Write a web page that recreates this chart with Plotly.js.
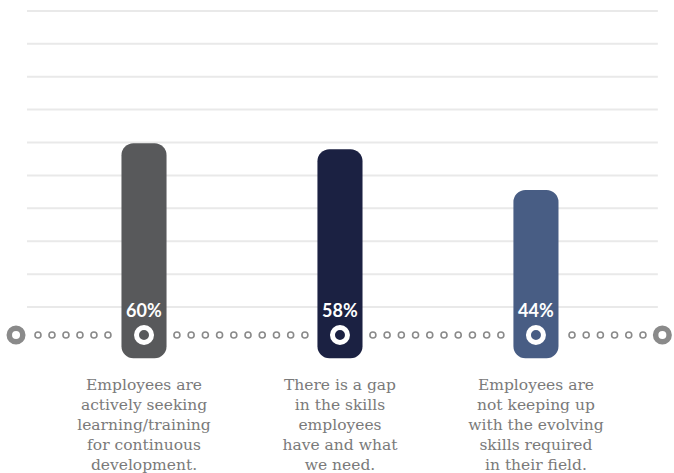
<!DOCTYPE html>
<html>
<head>
<meta charset="utf-8">
<script src="https://cdn.plot.ly/plotly-3.0.1.min.js"></script>
<style>html,body{margin:0;padding:0;background:#fff;}#chart{width:674px;height:473px;}</style>
</head>
<body>
<div id="chart"></div>
<script>
const categories = [
  "Employees are<br>actively seeking<br>learning/training<br>for continuous<br>development.",
  "There is a gap<br>in the skills<br>employees<br>have and what<br>we need.",
  "Employees are<br>not keeping up<br>with the evolving<br>skills required<br>in their field."
];
const values = [60, 58, 44];
const valueLabels = ["60%", "58%", "44%"];

const barColors = ["#58595b", "#1b2142", "#485d84"];
const xs = categories.map((c, i) => i);

// layout geometry (axis units)
const yMin = -14.2, yMax = 109.1;
const barBottom = -13.6;     // bars extend below the baseline
const lineY = -5.65;         // dotted line level
const gridStart = 3.94, gridStep = 11.27;
const gridVals = Array.from({length: 10}, (_, k) => gridStart + k * gridStep);
const gridX0 = -0.597, gridX1 = 2.622;

// decorative dotted line positions
const dots = [];
function run(a, b, n) { for (let k = 0; k < n; k++) dots.push(a + (b - a) * k / (n - 1)); }
run(-0.541, -0.184, 6);
for (let i = 0; i < categories.length - 1; i++) run(i + 0.168, i + 0.821, 10);
run(2.184, 2.546, 6);

const traces = [
  {
    type: "bar", x: xs, y: values.map(v => v - barBottom), base: values.map(() => barBottom), width: 0.23,
    marker: {color: barColors, cornerradius: 12, line: {width: 0}},
    hoverinfo: "skip", showlegend: false
  },
  {
    type: "scatter", mode: "markers", x: dots, y: dots.map(() => lineY),
    marker: {symbol: "circle-open", size: 6, color: "#8a8a8a", line: {width: 1.6, color: "#8a8a8a"}},
    cliponaxis: false, hoverinfo: "skip", showlegend: false
  },
  {
    type: "scatter", mode: "markers", x: [-0.653, 2.645], y: [lineY, lineY],
    marker: {symbol: "circle-open", size: 13.5, color: "#8a8a8a", line: {width: 5.5, color: "#8a8a8a"}},
    cliponaxis: false, hoverinfo: "skip", showlegend: false
  },
  {
    type: "scatter", mode: "markers", x: xs, y: xs.map(() => lineY),
    marker: {symbol: "circle-open", size: 15, color: "#ffffff", line: {width: 5, color: "#ffffff"}},
    cliponaxis: false, hoverinfo: "skip", showlegend: false
  }
];

const annotations = xs.map((x, i) => ({
  x: x, y: lineY, xref: "x", yref: "y", yshift: 25,
  text: "<b>" + valueLabels[i] + "</b>", showarrow: false,
  font: {family: "Lato, 'Open Sans', sans-serif", size: 18, color: "#ffffff"}
}));

const shapes = gridVals.map(g => ({
  type: "line", xref: "x", yref: "y", x0: gridX0, x1: gridX1, y0: g, y1: g,
  layer: "below", line: {color: "#e9e9e9", width: 2}
}));

const layout = {
  width: 674, height: 473,
  margin: {l: 8, r: 4, t: 0, b: 113, pad: 0},
  paper_bgcolor: "#ffffff", plot_bgcolor: "#ffffff",
  showlegend: false,
  xaxis: {
    range: [-0.694, 2.684], tickvals: xs, ticktext: categories,
    showgrid: false, zeroline: false, showline: false, ticks: "",
    ticklabelstandoff: 13,
    tickfont: {family: "'DejaVu Serif', serif", size: 15.5, color: "#7a7a7a"},
    fixedrange: true
  },
  yaxis: {
    range: [yMin, yMax], showticklabels: false,
    showgrid: false, zeroline: false, showline: false, ticks: "", fixedrange: true
  },
  shapes: shapes,
  annotations: annotations
};

Plotly.newPlot("chart", traces, layout, {staticPlot: true, displayModeBar: false});
</script>
</body>
</html>
